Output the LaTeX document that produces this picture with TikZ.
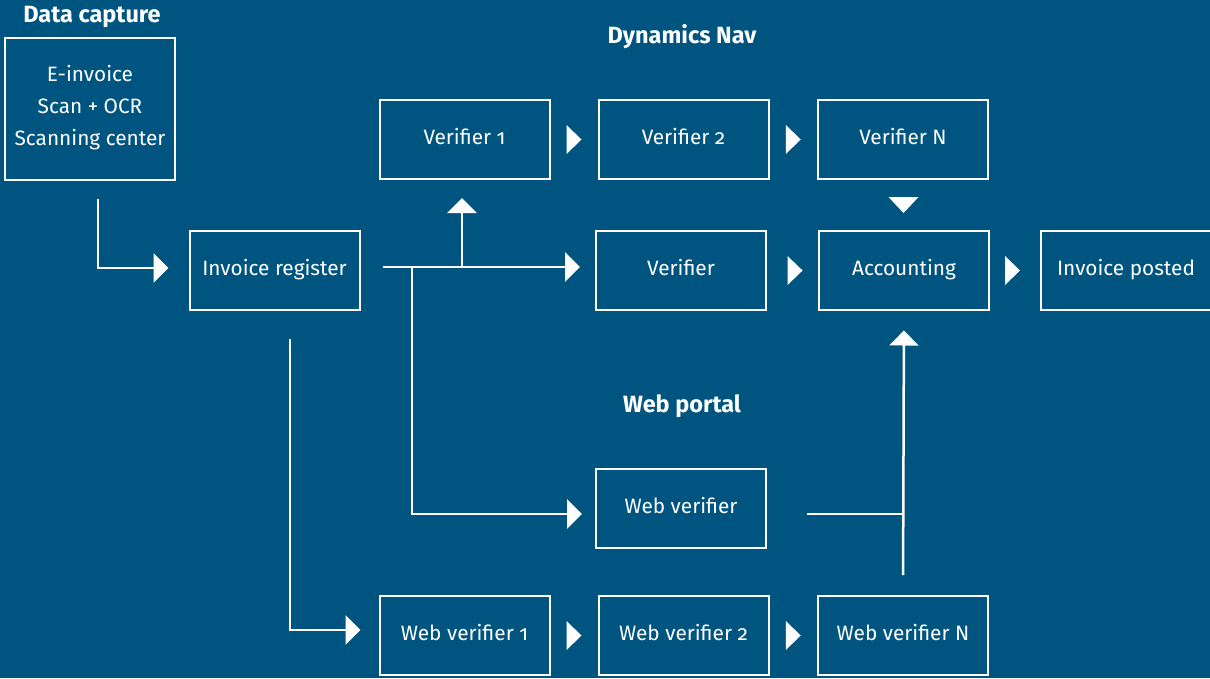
\documentclass[tikz,border=0pt]{standalone}
\usepackage{fontspec}
\setmainfont{Fira Sans}[Numbers=OldStyle]
\usetikzlibrary{arrows.meta,calc}
\definecolor{bg}{RGB}{0,85,128}
\begin{document}
\begin{tikzpicture}[x=1pt,y=-1pt,
  box/.style={draw=white,line width=2pt,minimum width=170pt,minimum height=79pt,inner sep=0pt,text=white,text height=15pt,text depth=6pt,font=\fontsize{20.8}{25}\selectfont},
  title/.style={text=white,font=\fontsize{23.5}{28}\selectfont\bfseries,inner sep=0pt},
  conn/.style={draw=white,line width=2.5pt},
  arr/.style={conn,-{Triangle[length=15pt,width=29pt]}},
  rtri/.pic={\fill[white] (-7.5,-14.5) -- (7.5,0) -- (-7.5,14.5) -- cycle;},
  dtri/.pic={\fill[white] (-15,-8) -- (15,-8) -- (0,8) -- cycle;}]
\fill[bg] (0,0) rectangle (1210,678);
\useasboundingbox (0,0) rectangle (1210,678);

\node[title] (tdc) at (92,17) {Data capture};
\node[title] (tdn) at (682,37) {Dynamics Nav};
\node[title] (twp) at (682,406) {Web portal};

\node[draw=white,line width=2pt,minimum width=170pt,minimum height=142pt,inner sep=0pt,text=white,align=center,font=\fontsize{20.8}{32}\selectfont] (dc) at (90,109) {E-invoice\\Scan + OCR\\Scanning center\vspace{2pt}};
\node[box] (v1) at (464.5,139.5) {Verifier 1};
\node[box] (v2) at (683.5,139.5) {Verifier 2};
\node[box] (vn) at (903,139.5) {Verifier N};
\node[box] (ir) at (274.5,270.5) {Invoice register};
\node[box] (ver) at (681,270.5) {Verifier};
\node[box] (acc) at (904,270.5) {Accounting};
\node[box] (ip) at (1126,270.5) {Invoice posted};
\node[box] (wv) at (681,508.5) {Web verifier};
\node[box] (wv1) at (464.5,635.5) {Web verifier 1};
\node[box] (wv2) at (683.5,635.5) {Web verifier 2};
\node[box] (wvn) at (903,635.5) {Web verifier N};

% arrowheads between consecutive boxes
\path (v1.east) -- coordinate[pos=0.5] (m1) (v2.west);
\path (v2.east) -- coordinate[pos=0.5] (m2) (vn.west);
\path (ver.east) -- coordinate[pos=0.55] (m3) (acc.west);
\path (acc.east) -- coordinate[pos=0.45] (m4) (ip.west);
\path (wv1.east) -- coordinate[pos=0.5] (m5) (wv2.west);
\path (wv2.east) -- coordinate[pos=0.5] (m6) (wvn.west);
\path (vn.south) -- coordinate[pos=0.5] (m7) (acc.north);
\pic at (m1) {rtri};
\pic at (m2) {rtri};
\pic at (m3) {rtri};
\pic at (m4) {rtri};
\pic at (m5) {rtri};
\pic at (m6) {rtri};
\pic at (m7) {dtri};

% connectors
\draw[arr,shorten <=18pt,shorten >=20pt] ([xshift=8pt]dc.south) |- ([yshift=2.5pt]ir.west);
\draw[arr,shorten <=22.5pt,shorten >=15pt] ([yshift=3.5pt]ir.east) -- ([yshift=3.5pt]ver.west);
\coordinate (j1) at ([yshift=3.5pt,xshift=-2.5pt]ir.east -| v1.south);
\draw[arr,shorten >=18pt] (j1) -- ([xshift=-2.5pt]v1.south);
\coordinate (j2) at ([yshift=3.5pt,xshift=51.5pt]ir.east);
\draw[arr,shorten >=13pt] (j2) |- ([yshift=-5.5pt]wv.west);
\draw[arr,shorten <=27.5pt,shorten >=18pt] ([xshift=15.5pt]ir.south) |- ([yshift=5.5pt]wv1.west);
\coordinate (j3) at ([yshift=-5.5pt]wv.east -| acc.south);
\draw[conn,shorten <=40pt] ([yshift=-5.5pt]wv.east) -- (j3);
\draw[arr,shorten <=20pt,shorten >=19.5pt] (wvn.north) -- (acc.south);
\end{tikzpicture}
\end{document}
